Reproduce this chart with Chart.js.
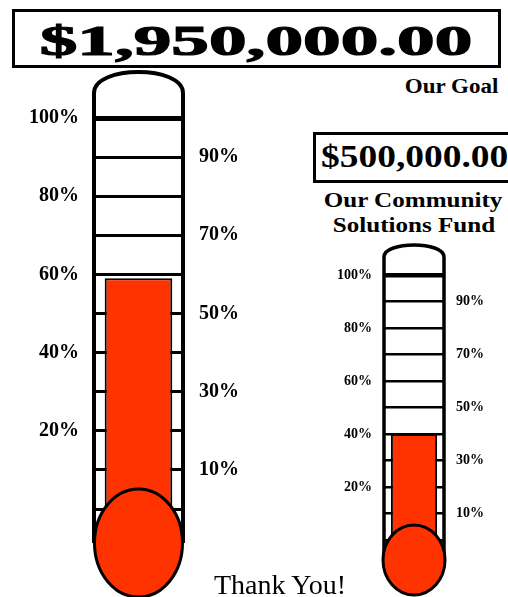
<!DOCTYPE html>
<html>
<head>
<meta charset="utf-8">
<script src="https://cdn.jsdelivr.net/npm/chart.js@4.4.1/dist/chart.umd.min.js"></script>
<style>
  html, body { margin: 0; padding: 0; background: #fff; }
  #page { position: relative; width: 508px; height: 597px; overflow: hidden; font-family: "Liberation Serif", "Times New Roman", serif; color: #000; }
  canvas { position: absolute; }
  .box { position: absolute; border: 3px solid #000; box-sizing: border-box; }
  .txt { position: absolute; white-space: nowrap; line-height: 1; }
  .b { font-weight: bold; }
</style>
</head>
<body>
<div id="page">
  <canvas id="goal-chart" width="260" height="527" style="left:0;top:70px"></canvas>
  <canvas id="fund-chart" width="188" height="357" style="left:320px;top:240px"></canvas>

  <div class="box" style="left:12px;top:9px;width:489px;height:59px"></div>
  <div class="txt b" style="left:0;width:512px;top:19px;font-size:43px;text-align:center;transform:scaleX(1.75);transform-origin:256px 0;-webkit-text-stroke:1.2px #000">$1,950,000.00</div>
  <div class="txt b" style="right:10px;top:76px;font-size:20px;transform:scaleX(1.15);transform-origin:right top">Our Goal</div>

  <div class="box" style="left:313px;top:132px;width:205px;height:51px"></div>
  <div class="txt b" style="left:321px;top:140px;font-size:32px;transform:scaleX(1.17);transform-origin:left top">$500,000.00</div>
  <div class="txt b" style="left:313px;width:200px;top:189px;font-size:22px;text-align:center;transform:scaleX(1.14);transform-origin:100px 0">Our Community</div>
  <div class="txt b" style="left:314px;width:200px;top:214px;font-size:22px;text-align:center;transform:scaleX(1.14);transform-origin:100px 0">Solutions Fund</div>

  <div class="txt" style="left:180px;width:200px;top:571px;font-size:28px;text-align:center">Thank You!</div>
</div>
<script>
  // values (percent of goal reached)
  const categories = ["Raised"];
  const goalRaised = [59];
  const fundRaised = [40];
  const leftTicks = [0, 20, 40, 60, 80, 100];
  const rightTicks = [10, 30, 50, 70, 90];

  const RED = "#FF3300";
  const FONT = "'Liberation Serif', 'Times New Roman', serif";

  // draws the glass: dome on top, walls, and the bulb over the bottom of the bar
  const tubePlugin = {
    id: "tube",
    afterDatasetsDraw(chart, args, o) {
      const { ctx, chartArea: a } = chart;
      const cx = (a.left + a.right) / 2;
      const domeBase = a.top - o.domeOffset;
      const domeCtrl = domeBase - o.domeHeight / 0.75;
      const bulbY = a.bottom + o.bulbOffset;
      ctx.save();
      ctx.strokeStyle = "#000";
      ctx.lineWidth = o.wall;
      ctx.lineJoin = "round";
      ctx.beginPath();
      ctx.moveTo(a.left, bulbY);
      ctx.lineTo(a.left, domeBase);
      ctx.bezierCurveTo(a.left, domeCtrl, a.right, domeCtrl, a.right, domeBase);
      ctx.lineTo(a.right, bulbY);
      ctx.stroke();

      ctx.beginPath();
      ctx.ellipse(cx, bulbY, o.rx, o.ry, 0, 0, Math.PI * 2);
      ctx.fillStyle = RED;
      ctx.fill();
      ctx.lineWidth = o.bulbLine;
      ctx.stroke();
      ctx.restore();
    },
  };

  function thermo(id, values, opt) {
    const tickFont = { family: FONT, weight: "bold", size: opt.fontSize };
    const grid = {
      color: "#000",
      drawTicks: false,
      lineWidth: (c) => (c.tick && c.tick.value === 100 ? opt.topLine : opt.line),
    };
    return new Chart(document.getElementById(id), {
      type: "bar",
      data: {
        labels: categories,
        datasets: [{
          data: values,
          yAxisID: "y",
          backgroundColor: RED,
          borderColor: "#000",
          borderWidth: 2,
          barPercentage: opt.bar,
          categoryPercentage: 1,
        }],
      },
      options: {
        responsive: false,
        animation: false,
        devicePixelRatio: 1,
        layout: { padding: { top: opt.top, bottom: opt.bottom, left: 0, right: 0 } },
        plugins: {
          legend: { display: false },
          tooltip: { enabled: false },
          tube: opt.tube,
        },
        scales: {
          x: { display: false },
          y: {
            position: "left",
            min: 0, max: 100,
            afterBuildTicks: (s) => { s.ticks = leftTicks.map((v) => ({ value: v })); },
            afterFit: (s) => { s.width = opt.leftW; },
            ticks: { color: "#000", font: tickFont, padding: opt.padL, autoSkip: false,
                     callback: (v) => (v === 0 ? "" : v + "%") },
            grid: grid,
            border: { display: false },
          },
          y2: {
            position: "right",
            min: 0, max: 100,
            afterBuildTicks: (s) => { s.ticks = rightTicks.map((v) => ({ value: v })); },
            afterFit: (s) => { s.width = opt.rightW; },
            ticks: { color: "#000", font: tickFont, padding: opt.padR, autoSkip: false,
                     callback: (v) => v + "%" },
            grid: grid,
            border: { display: false },
          },
        },
      },
      plugins: [tubePlugin],
    });
  }

  thermo("goal-chart", goalRaised, {
    fontSize: 20, line: 3, topLine: 5, bar: 0.76,
    top: 48, bottom: 88, leftW: 94, rightW: 77, padL: 15, padR: 16,
    tube: { wall: 4, bulbLine: 3, domeOffset: 25, domeHeight: 21, bulbOffset: 34, rx: 44, ry: 54 },
  });

  thermo("fund-chart", fundRaised, {
    fontSize: 14, line: 2.5, topLine: 4.5, bar: 0.77,
    top: 35, bottom: 57, leftW: 64, rightW: 64, padL: 12, padR: 12,
    tube: { wall: 3.5, bulbLine: 3, domeOffset: 18, domeHeight: 12, bulbOffset: 20, rx: 31, ry: 35 },
  });
</script>
</body>
</html>
